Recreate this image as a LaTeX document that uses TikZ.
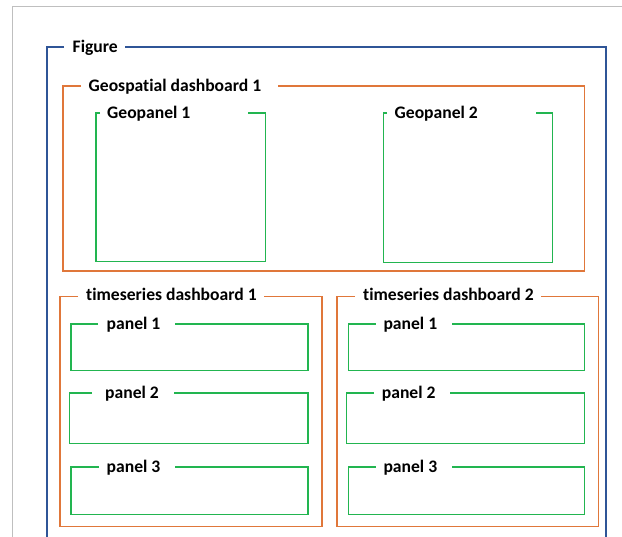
\documentclass[tikz,border=0pt]{standalone}
\usepackage{fontspec}
\setmainfont{Carlito}[Ligatures=CommonOff]
\definecolor{figblue}{HTML}{2F5597}
\definecolor{dashorange}{HTML}{E0773A}
\definecolor{panelgreen}{HTML}{22B550}
\definecolor{pagegray}{HTML}{BFBFBF}
\tikzset{
  figframe/.style={draw=figblue, line width=1.6pt},
  dashframe/.style={draw=dashorange, line width=1.6pt},
  panelframe/.style={draw=panelgreen, line width=1.5pt},
  title/.style={anchor=base west, inner sep=0pt, font=\fontsize{17.6}{19}\selectfont\bfseries},
}
% frame with a gap in its top edge: style, left, top, right, bottom, gap start, gap end
\newcommand\gapframe[7]{%
  \draw[#1] (#6,#3) -- (#2,#3) -- (#2,#5) -- (#4,#5) -- (#4,#3) -- (#7,#3);}
\begin{document}
\begin{tikzpicture}[x=1pt,y=-1pt]
\useasboundingbox (0,0) rectangle (622,537);
% page edge
\draw[pagegray, line width=1pt] (12.3,537) -- (12.3,7) -- (622,7);
% outer figure frame (runs off the bottom)
\draw[figframe] (64,47) -- (47,47) -- (47,540);
\draw[figframe] (125,47) -- (605.7,47) -- (605.7,540);
\node[title] (fig) at (72.5,52.7) {Figure};
% geospatial dashboard
\gapframe{dashframe}{62.7}{86}{584.3}{271}{81}{278}
\node[title] (geo) at (88.5,91.2) {Geospatial dashboard 1};
\gapframe{panelframe}{96}{113}{265.3}{261.7}{100}{248}
\node[title] (gp1) at (107,118.3) {Geopanel 1};
\gapframe{panelframe}{383.3}{113}{552.7}{262.3}{387}{536}
\node[title] (gp2) at (394.5,118.3) {Geopanel 2};
% timeseries dashboard 1
\gapframe{dashframe}{59.7}{296.5}{322}{526.7}{78}{264}
\node[title] (ts1) at (86,301) {timeseries dashboard 1};
\gapframe{panelframe}{71}{324}{308}{370.7}{98}{175}
\node[title] (ts1p1) at (106.5,329.3) {panel 1};
\gapframe{panelframe}{69.7}{393}{308}{443.3}{92}{174}
\node[title] (ts1p2) at (105,398.3) {panel 2};
\gapframe{panelframe}{71}{467}{308}{514.7}{99}{175}
\node[title] (ts1p3) at (106.5,472.3) {panel 3};
% timeseries dashboard 2
\gapframe{dashframe}{336.7}{296.7}{598.3}{526.7}{355}{541.3}
\node[title] (ts2) at (363,301) {timeseries dashboard 2};
\gapframe{panelframe}{348.3}{324}{584.3}{370.7}{375.7}{452}
\node[title] (ts2p1) at (383.3,329.3) {panel 1};
\gapframe{panelframe}{346.3}{393}{584.3}{443.3}{374}{450}
\node[title] (ts2p2) at (381.7,398.3) {panel 2};
\gapframe{panelframe}{348.3}{467}{584.3}{514.7}{375.7}{452}
\node[title] (ts2p3) at (383.3,472.3) {panel 3};
\end{tikzpicture}
\end{document}
